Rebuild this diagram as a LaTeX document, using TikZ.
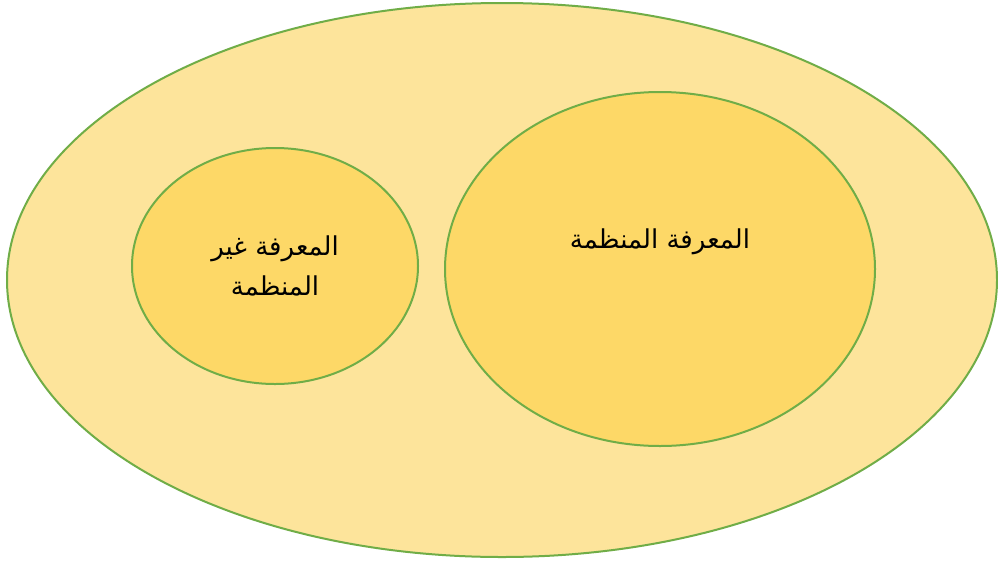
\documentclass[tikz,border=0pt]{standalone}
\usepackage{fontspec}
\newfontfamily\arabicfont[Script=Arabic]{DejaVu Sans}
\TeXXeTstate=1
\definecolor{outerfill}{HTML}{FDE49B}
\definecolor{innerfill}{HTML}{FDD867}
\definecolor{edge}{HTML}{70AD47}
\begin{document}
\begin{tikzpicture}[x=1pt,y=-1pt,
  blob/.style={draw=edge,line width=2pt},
  lbl/.style={font=\arabicfont\fontsize{26}{40}\selectfont,align=center,text=black}]
\useasboundingbox (0,0) rectangle (998,563);
\fill[white] (0,0) rectangle (998,563);
\path[blob,fill=outerfill] (502,280) ellipse [x radius=495,y radius=277];
\path[blob,fill=innerfill] (275,266) ellipse [x radius=143,y radius=118];
\path[blob,fill=innerfill] (660,269) ellipse [x radius=215,y radius=177];
\node[lbl] (small) at (275,266) {\beginR المعرفة غير\endR\\\beginR المنظمة\endR};
\node[lbl] (big) at (660,242) {\beginR المعرفة المنظمة\endR};
\end{tikzpicture}
\end{document}
